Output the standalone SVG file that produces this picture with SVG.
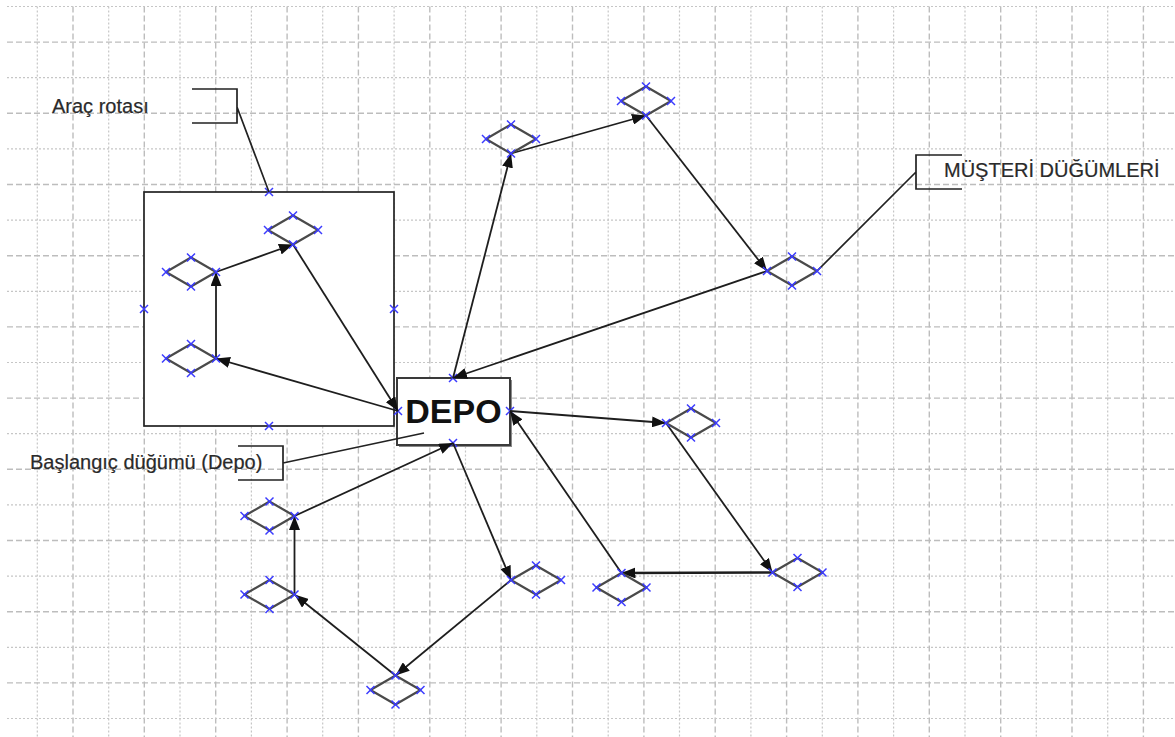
<svg xmlns="http://www.w3.org/2000/svg" width="1175" height="737" viewBox="0 0 1175 737">
  <style>
    .grid-dot { stroke: #c6c6c6; stroke-width: 1.2; stroke-dasharray: 2 2; fill: none; }
    .grid-dash { stroke: #bdbdbd; stroke-width: 1.4; stroke-dasharray: 6 3; fill: none; }
    .frame { fill: #ffffff; stroke: #222222; stroke-width: 1.7; }
    .bracket { fill: none; stroke: #222222; stroke-width: 1.7; }
    .label { font-family: "Liberation Sans", Arial, sans-serif; font-size: 20px; fill: #2a2a2a; stroke: #2a2a2a; stroke-width: 0.2; }
    .depo-text { font-family: "Liberation Sans", Arial, sans-serif; font-size: 34px; font-weight: bold; fill: #111111; }
    .cust { fill: none; stroke: #4a4a4a; stroke-width: 2.2; stroke-linejoin: round; }
    .edge { fill: none; stroke: #1e1e1e; stroke-width: 1.8; marker-end: url(#arrow); }
    .xm { fill: none; stroke: #3b3bff; stroke-width: 1.5; }
  </style>
  <defs>
    <marker id="arrow" markerUnits="userSpaceOnUse" markerWidth="15" markerHeight="11" refX="14" refY="5.5" orient="auto">
      <path d="M0,0 L14,5.5 L0,11 z" fill="#111111"/>
    </marker>
    <path id="x" class="xm" d="M-4,-4 L4,4 M-4,4 L4,-4"/>
    <g id="cnode">
      <polygon class="cust" points="-25,0 0,-14.5 25,0 0,14.5"/>
      <use href="#x" x="-25" y="0"/>
      <use href="#x" x="0" y="-14.5"/>
      <use href="#x" x="25" y="0"/>
      <use href="#x" x="0" y="14.5"/>
    </g>
  </defs>

  <rect width="1175" height="737" fill="#ffffff"/>

  <!-- background grid -->
  <g id="grid">
    <path class="grid-dot" d="M37.3,6.5V737 M108.7,6.5V737 M180,6.5V737 M251.4,6.5V737 M322.7,6.5V737 M394.1,6.5V737 M465.5,6.5V737 M536.8,6.5V737 M608.2,6.5V737 M679.5,6.5V737 M750.9,6.5V737 M822.3,6.5V737 M893.6,6.5V737 M965,6.5V737 M1036.3,6.5V737 M1107.7,6.5V737"/>
    <path class="grid-dash" d="M73,6.5V737 M144.3,6.5V737 M215.7,6.5V737 M287.1,6.5V737 M358.4,6.5V737 M429.8,6.5V737 M501.1,6.5V737 M572.5,6.5V737 M643.9,6.5V737 M715.2,6.5V737 M786.6,6.5V737 M857.9,6.5V737 M929.3,6.5V737 M1000.7,6.5V737 M1072,6.5V737 M1143.4,6.5V737"/>
    <path class="grid-dot" d="M7,6.5H1175 M7,77.7H1175 M7,148.9H1175 M7,220.1H1175 M7,291.3H1175 M7,362.5H1175 M7,433.7H1175 M7,504.9H1175 M7,576.1H1175 M7,647.3H1175 M7,718.5H1175"/>
    <path class="grid-dash" d="M7,42.1H1175 M7,113.3H1175 M7,184.5H1175 M7,255.7H1175 M7,326.9H1175 M7,398.1H1175 M7,469.3H1175 M7,540.5H1175 M7,611.7H1175 M7,682.9H1175"/>
  </g>

  <!-- vehicle route frame -->
  <g id="route-frame">
    <rect class="frame" x="144" y="192" width="250" height="234"/>
    <use href="#x" x="269" y="192"/>
    <use href="#x" x="269" y="426"/>
    <use href="#x" x="144" y="309"/>
    <use href="#x" x="394" y="309"/>
  </g>

  <!-- depot -->
  <g id="depo">
    <rect x="399" y="380" width="113" height="67" fill="#8a8a8a"/>
    <rect x="397" y="378" width="113" height="67" fill="#ffffff" stroke="#3a3a3a" stroke-width="2"/>
    <text class="depo-text" x="453.5" y="423" text-anchor="middle">DEPO</text>
    <use href="#x" x="453" y="378"/>
    <use href="#x" x="398" y="411"/>
    <use href="#x" x="510" y="411"/>
    <use href="#x" x="453" y="443"/>
  </g>

  <!-- annotations -->
  <g id="label-route">
    <text class="label" x="52" y="113">Araç rotası</text>
    <path class="bracket" d="M192,89 H237 V123 H192 M237,107 L269,192"/>
  </g>
  <g id="label-start">
    <text class="label" x="30" y="469">Başlangıç düğümü (Depo)</text>
    <path class="bracket" d="M238,446 H283 V480 H238 M283,463 L424,433"/>
  </g>
  <g id="label-customers">
    <text class="label" x="944" y="177">MÜŞTERİ DÜĞÜMLERİ</text>
    <path class="bracket" d="M962,155 H916 V189 H962 M916,172 L817,271"/>
  </g>

  <!-- routes -->
  <g id="connectors">
    <!-- route 1 -->
    <line class="edge" x1="398" y1="411" x2="216" y2="358.5"/>
    <line class="edge" x1="216" y1="358.5" x2="216" y2="272"/>
    <line class="edge" x1="216" y1="272" x2="293" y2="244.5"/>
    <line class="edge" x1="293" y1="244.5" x2="398" y2="411"/>
    <!-- route 2 -->
    <line class="edge" x1="453" y1="378" x2="511" y2="153.5"/>
    <line class="edge" x1="511" y1="153.5" x2="646" y2="115.5"/>
    <line class="edge" x1="646" y1="115.5" x2="767" y2="271"/>
    <line class="edge" x1="767" y1="271" x2="453" y2="378"/>
    <!-- route 3 -->
    <line class="edge" x1="510" y1="411" x2="666" y2="423"/>
    <line class="edge" x1="666" y1="423" x2="772.5" y2="572.5"/>
    <line class="edge" x1="772.5" y1="572.5" x2="621.5" y2="573" style="stroke-width:2.6"/>
    <line class="edge" x1="621.5" y1="573" x2="510" y2="411"/>
    <!-- route 4 -->
    <line class="edge" x1="453" y1="443" x2="511" y2="580"/>
    <line class="edge" x1="511" y1="580" x2="395.5" y2="675.5"/>
    <line class="edge" x1="395.5" y1="675.5" x2="294.5" y2="594.5"/>
    <line class="edge" x1="294.5" y1="594.5" x2="294.5" y2="516"/>
    <line class="edge" x1="294.5" y1="516" x2="453" y2="443"/>
  </g>

  <!-- customer nodes -->
  <g id="node-a"><use href="#cnode" x="191" y="272"/></g>
  <g id="node-b"><use href="#cnode" x="293" y="230"/></g>
  <g id="node-c"><use href="#cnode" x="191" y="358.5"/></g>
  <g id="node-d"><use href="#cnode" x="511" y="139"/></g>
  <g id="node-e"><use href="#cnode" x="646" y="101"/></g>
  <g id="node-f"><use href="#cnode" x="792" y="271"/></g>
  <g id="node-g"><use href="#cnode" x="269.5" y="516"/></g>
  <g id="node-h"><use href="#cnode" x="269.5" y="594.5"/></g>
  <g id="node-i"><use href="#cnode" x="536" y="580"/></g>
  <g id="node-j"><use href="#cnode" x="691" y="423"/></g>
  <g id="node-k"><use href="#cnode" x="395.5" y="690"/></g>
  <g id="node-l"><use href="#cnode" x="797.5" y="572.5"/></g>
  <g id="node-m"><use href="#cnode" x="621.5" y="587.5"/></g>
</svg>
